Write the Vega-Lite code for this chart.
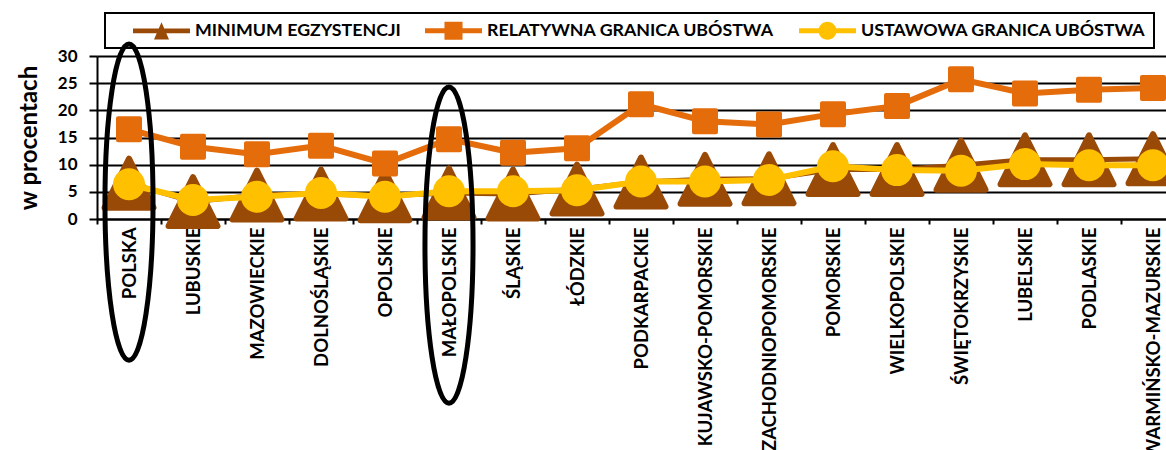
{
  "$schema": "https://vega.github.io/schema/vega-lite/v6.json",
  "width": 1069,
  "height": 163,
  "autosize": {"type": "none"},
  "padding": {"left": 97, "top": 56, "right": 0, "bottom": 231},
  "background": "white",
  "config": {
    "view": {"stroke": null},
    "font": "Lato",
    "axis": {
      "labelFont": "Lato", "labelFontWeight": "bold", "labelFontSize": 17, "labelColor": "black",
      "domainColor": "black", "domainWidth": 2, "tickColor": "black", "tickWidth": 2,
      "titleFont": "Lato", "titleFontWeight": "bold", "titleColor": "black"
    }
  },
  "data": {"values": [
    {"region": "POLSKA", "series": "MINIMUM EGZYSTENCJI", "value": 6.6},
    {"region": "LUBUSKIE", "series": "MINIMUM EGZYSTENCJI", "value": 3.2},
    {"region": "MAZOWIECKIE", "series": "MINIMUM EGZYSTENCJI", "value": 4.4},
    {"region": "DOLNOŚLĄSKIE", "series": "MINIMUM EGZYSTENCJI", "value": 4.6},
    {"region": "OPOLSKIE", "series": "MINIMUM EGZYSTENCJI", "value": 4.3},
    {"region": "MAŁOPOLSKIE", "series": "MINIMUM EGZYSTENCJI", "value": 4.8},
    {"region": "ŚLĄSKIE", "series": "MINIMUM EGZYSTENCJI", "value": 4.6},
    {"region": "ŁÓDZKIE", "series": "MINIMUM EGZYSTENCJI", "value": 5.5},
    {"region": "PODKARPACKIE", "series": "MINIMUM EGZYSTENCJI", "value": 6.8},
    {"region": "KUJAWSKO-POMORSKIE", "series": "MINIMUM EGZYSTENCJI", "value": 7.3},
    {"region": "ZACHODNIOPOMORSKIE", "series": "MINIMUM EGZYSTENCJI", "value": 7.4},
    {"region": "POMORSKIE", "series": "MINIMUM EGZYSTENCJI", "value": 9.1},
    {"region": "WIELKOPOLSKIE", "series": "MINIMUM EGZYSTENCJI", "value": 9.1},
    {"region": "ŚWIĘTOKRZYSKIE", "series": "MINIMUM EGZYSTENCJI", "value": 9.9},
    {"region": "LUBELSKIE", "series": "MINIMUM EGZYSTENCJI", "value": 10.9},
    {"region": "PODLASKIE", "series": "MINIMUM EGZYSTENCJI", "value": 10.9},
    {"region": "WARMIŃSKO-MAZURSKIE", "series": "MINIMUM EGZYSTENCJI", "value": 11.1},
    {"region": "POLSKA", "series": "RELATYWNA GRANICA UBÓSTWA", "value": 16.5},
    {"region": "LUBUSKIE", "series": "RELATYWNA GRANICA UBÓSTWA", "value": 13.3},
    {"region": "MAZOWIECKIE", "series": "RELATYWNA GRANICA UBÓSTWA", "value": 11.9},
    {"region": "DOLNOŚLĄSKIE", "series": "RELATYWNA GRANICA UBÓSTWA", "value": 13.5},
    {"region": "OPOLSKIE", "series": "RELATYWNA GRANICA UBÓSTWA", "value": 10.2},
    {"region": "MAŁOPOLSKIE", "series": "RELATYWNA GRANICA UBÓSTWA", "value": 14.7},
    {"region": "ŚLĄSKIE", "series": "RELATYWNA GRANICA UBÓSTWA", "value": 12.2},
    {"region": "ŁÓDZKIE", "series": "RELATYWNA GRANICA UBÓSTWA", "value": 13.0},
    {"region": "PODKARPACKIE", "series": "RELATYWNA GRANICA UBÓSTWA", "value": 21.1},
    {"region": "KUJAWSKO-POMORSKIE", "series": "RELATYWNA GRANICA UBÓSTWA", "value": 18.0},
    {"region": "ZACHODNIOPOMORSKIE", "series": "RELATYWNA GRANICA UBÓSTWA", "value": 17.4},
    {"region": "POMORSKIE", "series": "RELATYWNA GRANICA UBÓSTWA", "value": 19.3},
    {"region": "WIELKOPOLSKIE", "series": "RELATYWNA GRANICA UBÓSTWA", "value": 20.8},
    {"region": "ŚWIĘTOKRZYSKIE", "series": "RELATYWNA GRANICA UBÓSTWA", "value": 25.7},
    {"region": "LUBELSKIE", "series": "RELATYWNA GRANICA UBÓSTWA", "value": 23.1},
    {"region": "PODLASKIE", "series": "RELATYWNA GRANICA UBÓSTWA", "value": 23.8},
    {"region": "WARMIŃSKO-MAZURSKIE", "series": "RELATYWNA GRANICA UBÓSTWA", "value": 24.1},
    {"region": "POLSKA", "series": "USTAWOWA GRANICA UBÓSTWA", "value": 6.4},
    {"region": "LUBUSKIE", "series": "USTAWOWA GRANICA UBÓSTWA", "value": 3.5},
    {"region": "MAZOWIECKIE", "series": "USTAWOWA GRANICA UBÓSTWA", "value": 4.1},
    {"region": "DOLNOŚLĄSKIE", "series": "USTAWOWA GRANICA UBÓSTWA", "value": 4.8},
    {"region": "OPOLSKIE", "series": "USTAWOWA GRANICA UBÓSTWA", "value": 4.1},
    {"region": "MAŁOPOLSKIE", "series": "USTAWOWA GRANICA UBÓSTWA", "value": 5.1},
    {"region": "ŚLĄSKIE", "series": "USTAWOWA GRANICA UBÓSTWA", "value": 5.1},
    {"region": "ŁÓDZKIE", "series": "USTAWOWA GRANICA UBÓSTWA", "value": 5.3},
    {"region": "PODKARPACKIE", "series": "USTAWOWA GRANICA UBÓSTWA", "value": 6.9},
    {"region": "KUJAWSKO-POMORSKIE", "series": "USTAWOWA GRANICA UBÓSTWA", "value": 6.9},
    {"region": "ZACHODNIOPOMORSKIE", "series": "USTAWOWA GRANICA UBÓSTWA", "value": 7.2},
    {"region": "POMORSKIE", "series": "USTAWOWA GRANICA UBÓSTWA", "value": 9.7},
    {"region": "WIELKOPOLSKIE", "series": "USTAWOWA GRANICA UBÓSTWA", "value": 9.0},
    {"region": "ŚWIĘTOKRZYSKIE", "series": "USTAWOWA GRANICA UBÓSTWA", "value": 8.9},
    {"region": "LUBELSKIE", "series": "USTAWOWA GRANICA UBÓSTWA", "value": 10.1},
    {"region": "PODLASKIE", "series": "USTAWOWA GRANICA UBÓSTWA", "value": 9.9},
    {"region": "WARMIŃSKO-MAZURSKIE", "series": "USTAWOWA GRANICA UBÓSTWA", "value": 9.9}
  ]},
  "encoding": {
    "x": {
      "field": "region", "type": "nominal", "sort": null,
      "scale": {
        "domain": ["POLSKA", "LUBUSKIE", "MAZOWIECKIE", "DOLNOŚLĄSKIE", "OPOLSKIE", "MAŁOPOLSKIE", "ŚLĄSKIE", "ŁÓDZKIE", "PODKARPACKIE", "KUJAWSKO-POMORSKIE", "ZACHODNIOPOMORSKIE", "POMORSKIE", "WIELKOPOLSKIE", "ŚWIĘTOKRZYSKIE", "LUBELSKIE", "PODLASKIE", "WARMIŃSKO-MAZURSKIE"],
        "range": [0, 1088], "paddingInner": 0, "paddingOuter": 0
      },
      "axis": {"title": null, "labelAngle": -90, "labelFontSize": 18.5, "tickBand": "extent", "tickSize": 5, "labelPadding": 3, "labelLimit": 0, "grid": false}
    },
    "y": {
      "field": "value", "type": "quantitative",
      "scale": {"domain": [0, 30], "nice": false, "zero": true},
      "axis": {"title": "w procentach", "titleFontSize": 24, "titlePadding": 16, "values": [0, 5, 10, 15, 20, 25, 30], "tickSize": 8, "labelPadding": 12, "grid": true, "gridColor": "black", "gridWidth": 2, "gridOpacity": 1}
    },
    "color": {
      "field": "series", "type": "nominal",
      "scale": {"domain": ["MINIMUM EGZYSTENCJI", "RELATYWNA GRANICA UBÓSTWA", "USTAWOWA GRANICA UBÓSTWA"], "range": ["#994A07", "#E46C0A", "#FFC000"]},
      "legend": {
        "orient": "none", "legendX": 8, "legendY": -43, "direction": "horizontal",
        "title": " ", "titleOrient": "left", "titleFontSize": 1, "titlePadding": 20,
        "padding": 8, "strokeColor": "black",
        "symbolSize": 361, "symbolStrokeWidth": 0,
        "labelFont": "Lato", "labelFontWeight": "bold", "labelFontSize": 17.8, "labelColor": "black",
        "labelOffset": 43, "columnPadding": 24, "labelLimit": 0,
        "labelExpr": "datum.value === 'USTAWOWA GRANICA UBÓSTWA' ? datum.label + '\u00a0\u00a0\u00a0\u00a0\u00a0\u00a0' : datum.label",
        "encode": {
          "legend": {"update": {"strokeWidth": {"value": 2}}},
          "symbols": {"update": {
            "shape": {"signal": "datum.value === 'MINIMUM EGZYSTENCJI' ? 'M-1,-0.26L5,-0.26L5,0.26L-1,0.26Z M2,-0.9L2.79,0.9L1.21,0.9Z' : datum.value === 'RELATYWNA GRANICA UBÓSTWA' ? 'M-1,-0.26L5,-0.26L5,0.26L-1,0.26Z M1.05,-0.95L2.95,-0.95L2.95,0.95L1.05,0.95Z' : 'M-1,-0.26L5,-0.26L5,0.26L-1,0.26Z M2.95,0A0.95,0.95 0 1,1 1.05,0A0.95,0.95 0 1,1 2.95,0Z'"},
            "fill": {"signal": "scale('color', datum.value)"},
            "stroke": {"value": "transparent"},
            "strokeWidth": {"value": 0},
            "opacity": {"value": 1},
            "fillOpacity": {"value": 1}
          }}
        }
      }
    }
  },
  "layer": [
    {"transform": [{"filter": "datum.series === 'MINIMUM EGZYSTENCJI'"}],
     "mark": {"type": "line", "strokeWidth": 5, "clip": false}},
    {"transform": [{"filter": "datum.series === 'MINIMUM EGZYSTENCJI'"}],
     "mark": {"type": "point", "shape": "M0,-1L1,1L-1,1Z", "size": 2401, "filled": true, "opacity": 1, "stroke": "#994A07", "strokeWidth": 6, "strokeJoin": "round", "clip": false}},
    {"transform": [{"filter": "datum.series === 'RELATYWNA GRANICA UBÓSTWA'"}],
     "mark": {"type": "line", "strokeWidth": 6, "clip": false}},
    {"transform": [{"filter": "datum.series === 'RELATYWNA GRANICA UBÓSTWA'"}],
     "mark": {"type": "point", "shape": "square", "size": 484, "filled": true, "opacity": 1, "stroke": "#E46C0A", "strokeWidth": 4, "strokeJoin": "round", "clip": false}},
    {"transform": [{"filter": "datum.series === 'USTAWOWA GRANICA UBÓSTWA'"}],
     "mark": {"type": "line", "strokeWidth": 6, "clip": false}},
    {"transform": [{"filter": "datum.series === 'USTAWOWA GRANICA UBÓSTWA'"}],
     "mark": {"type": "point", "shape": "circle", "size": 1024, "filled": true, "opacity": 1, "clip": false}},
    {"data": {"values": [
      {"region": "POLSKA", "center": 3.1},
      {"region": "MAŁOPOLSKIE", "center": -4.8}
    ]},
     "mark": {"type": "point", "shape": "M0,-1A0.152,1 0 1,1 0,1A0.152,1 0 1,1 0,-1Z", "size": 100000, "filled": false, "stroke": "black", "strokeWidth": 5, "opacity": 1, "clip": false},
     "encoding": {
       "x": {"field": "region", "type": "nominal", "sort": null},
       "y": {"field": "center", "type": "quantitative"},
       "color": {"value": "black"}
     }}
  ]
}
